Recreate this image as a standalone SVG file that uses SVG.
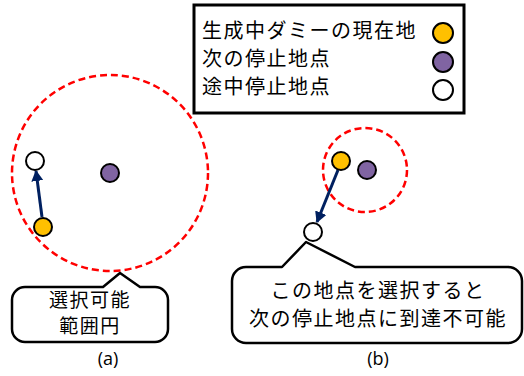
<svg xmlns="http://www.w3.org/2000/svg" width="524" height="376" viewBox="0 0 524 376">
<style>
.t{font-family:"Noto Sans CJK JP","Noto Sans CJK SC",sans-serif;font-size:20px;fill:#000;letter-spacing:1.5px}
.c{text-anchor:middle}
.lab{font-family:"Open Sans","Liberation Sans",sans-serif;font-size:18px;fill:#000;text-anchor:middle}
.dot{stroke:#000;stroke-width:2}
.y{fill:#FFC000}.p{fill:#8064A2}.w{fill:#fff}
.range{fill:none;stroke:#FF0000;stroke-width:2.5;stroke-dasharray:7 4}
.callout{fill:#fff;stroke:#000;stroke-width:2.5;stroke-linejoin:round}
.arr{stroke:#002060;stroke-width:3;fill:none;marker-end:url(#ah)}
</style>
<defs>
<marker id="ah" markerUnits="userSpaceOnUse" markerWidth="12" markerHeight="12" refX="10" refY="6" orient="auto">
<path d="M0,0 L11,6 L0,12 Z" fill="#002060"/>
</marker>
</defs>
<rect width="524" height="376" fill="#fff"/>
<g id="legend">
<rect x="194" y="5" width="270" height="108" fill="#fff" stroke="#000" stroke-width="3"/>
<text class="t" x="202" y="38">生成中ダミーの現在地</text>
<text class="t" x="202" y="66">次の停止地点</text>
<text class="t" x="202" y="94">途中停止地点</text>
<circle class="dot y" cx="443" cy="33" r="10"/>
<circle class="dot p" cx="443" cy="62" r="10"/>
<circle class="dot w" cx="443" cy="90" r="10"/>
</g>
<g id="range-a"><circle class="range" cx="110" cy="173" r="98"/></g>
<g id="range-b"><circle class="range" cx="365" cy="170" r="42"/></g>
<g id="connectors">
<line class="arr" x1="42" y1="217" x2="36" y2="171"/>
<line class="arr" x1="338" y1="170" x2="317" y2="222"/>
</g>
<g id="a-white"><circle class="dot w" cx="35" cy="161" r="9"/></g>
<g id="a-purple"><circle class="dot p" cx="110" cy="173" r="9"/></g>
<g id="a-yellow"><circle class="dot y" cx="43" cy="227" r="9"/></g>
<g id="b-yellow"><circle class="dot y" cx="341" cy="161" r="9"/></g>
<g id="b-purple"><circle class="dot p" cx="367" cy="170" r="9"/></g>
<g id="b-white"><circle class="dot w" cx="313" cy="232" r="9"/></g>
<g id="callout-a">
<path class="callout" d="M25,287 L103,287 L120,273 L140,287 L155,287 A13,13 0 0 1 168,300 L168,329 A13,13 0 0 1 155,342 L25,342 A13,13 0 0 1 12,329 L12,300 A13,13 0 0 1 25,287 Z"/>
<text class="t c" x="90" y="307" style="font-size:19px">選択可能</text>
<text class="t c" x="90" y="333" style="font-size:19px">範囲円</text>
</g>
<g id="callout-b">
<path class="callout" d="M246,267 L282,267 L306,242 L355,267 L508,267 A14,14 0 0 1 522,281 L522,329 A14,14 0 0 1 508,343 L246,343 A14,14 0 0 1 232,329 L232,281 A14,14 0 0 1 246,267 Z"/>
<text class="t c" x="378" y="298">この地点を選択すると</text>
<text class="t c" x="378" y="326">次の停止地点に到達不可能</text>
</g>
<text class="lab" x="108" y="365">(a)</text>
<text class="lab" x="378" y="365">(b)</text>
</svg>
